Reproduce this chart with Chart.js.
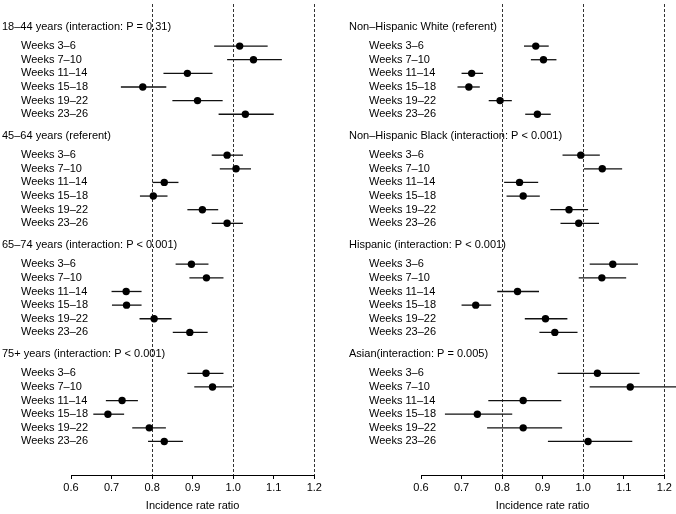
<!DOCTYPE html>
<html>
<head>
<meta charset="utf-8">
<script src="https://cdn.jsdelivr.net/npm/chart.js@4.4.0/dist/chart.umd.min.js"></script>
<style>
  html, body { margin: 0; padding: 0; background: #fff; }
  #wrap { position: relative; width: 676px; height: 514px; }
  canvas { position: absolute; top: 0; }
</style>
</head>
<body>
<div id="wrap">
  <canvas id="left" width="338" height="514" style="left:0"></canvas>
  <canvas id="right" width="338" height="514" style="left:338px"></canvas>
</div>
<script>
// rows inside every group
const weeks = ['Weeks 3–6', 'Weeks 7–10', 'Weeks 11–14', 'Weeks 15–18', 'Weeks 19–22', 'Weeks 23–26'];

// left panel: age groups
const ageGroups = [
  '18–44 years (interaction: P = 0.31)',
  '45–64 years (referent)',
  '65–74 years (interaction: P < 0.001)',
  '75+ years (interaction: P < 0.001)'
];
const ageIrr = [
  [1.016, 1.050, 0.887, 0.777, 0.912, 1.030],
  [0.985, 1.007, 0.830, 0.803, 0.924, 0.985],
  [0.897, 0.934, 0.736, 0.737, 0.805, 0.893],
  [0.933, 0.949, 0.726, 0.691, 0.793, 0.830]
];
const ageLower = [
  [0.953, 0.985, 0.828, 0.723, 0.850, 0.964],
  [0.947, 0.967, 0.801, 0.770, 0.887, 0.947],
  [0.858, 0.892, 0.700, 0.701, 0.769, 0.851],
  [0.887, 0.904, 0.686, 0.655, 0.751, 0.790]
];
const ageUpper = [
  [1.085, 1.120, 0.949, 0.835, 0.974, 1.100],
  [1.024, 1.044, 0.865, 0.838, 0.963, 1.024],
  [0.939, 0.976, 0.774, 0.774, 0.848, 0.937],
  [0.976, 0.998, 0.765, 0.731, 0.834, 0.876]
];

// right panel: race / ethnicity
const raceGroups = [
  'Non–Hispanic White (referent)',
  'Non–Hispanic Black (interaction: P < 0.001)',
  'Hispanic (interaction: P < 0.001)',
  'Asian(interaction: P = 0.005)'
];
const raceIrr = [
  [0.883, 0.902, 0.725, 0.718, 0.795, 0.887],
  [0.994, 1.047, 0.843, 0.852, 0.965, 0.989],
  [1.073, 1.046, 0.838, 0.735, 0.907, 0.930],
  [1.035, 1.116, 0.852, 0.739, 0.852, 1.012]
];
const raceLower = [
  [0.854, 0.871, 0.700, 0.690, 0.767, 0.857],
  [0.949, 1.002, 0.805, 0.811, 0.919, 0.944],
  [1.016, 0.989, 0.788, 0.700, 0.856, 0.892],
  [0.937, 1.016, 0.766, 0.659, 0.763, 0.913]
];
const raceUpper = [
  [0.915, 0.934, 0.753, 0.745, 0.824, 0.920],
  [1.041, 1.096, 0.889, 0.893, 1.012, 1.039],
  [1.135, 1.106, 0.891, 0.773, 0.961, 0.986],
  [1.139, 1.240, 0.946, 0.825, 0.948, 1.121]
];

const xTicks = [0.6, 0.7, 0.8, 0.9, 1.0, 1.1, 1.2];
const refLines = [0.8, 1.0, 1.2];

const FONT = { family: '"Liberation Sans", Arial, sans-serif', size: 11 };
const GROUP_SPAN = 8;      // title + 6 rows + gaps
const FIRST_ROW = 1.4;

function rowPos(g, k) { return g * GROUP_SPAN + FIRST_ROW + k; }

const refLinePlugin = {
  id: 'refLines',
  beforeDatasetsDraw(chart) {
    const { ctx, chartArea, scales: { x } } = chart;
    ctx.save();
    ctx.strokeStyle = '#333';
    ctx.lineWidth = 1;
    ctx.setLineDash([3, 2]);
    refLines.forEach(v => {
      const px = Math.round(x.getPixelForValue(v)) + 0.5;
      ctx.beginPath();
      ctx.moveTo(px, chartArea.top);
      ctx.lineTo(px, chartArea.bottom);
      ctx.stroke();
    });
    ctx.restore();
  }
};

const rowLabelPlugin = {
  id: 'rowLabels',
  afterDraw(chart, args, opts) {
    const { ctx, scales: { y } } = chart;
    ctx.save();
    ctx.font = FONT.size + 'px ' + FONT.family;
    ctx.fillStyle = '#000';
    ctx.textBaseline = 'middle';
    opts.groups.forEach((title, g) => {
      ctx.fillText(title, opts.titleX, y.getPixelForValue(g * GROUP_SPAN));
      weeks.forEach((w, k) => ctx.fillText(w, opts.rowX, y.getPixelForValue(rowPos(g, k))));
    });
    ctx.restore();
  }
};

function makeChart(id, groups, irr, lower, upper, padLeft, padRight, titleX, rowX) {
  const points = [];
  const whiskers = [];
  groups.forEach((_, g) => {
    weeks.forEach((_, k) => {
      const yy = rowPos(g, k);
      points.push({ x: irr[g][k], y: yy });
      whiskers.push({
        type: 'scatter',
        showLine: true,
        data: [{ x: lower[g][k], y: yy }, { x: upper[g][k], y: yy }],
        borderColor: '#111',
        borderWidth: 1.3,
        pointRadius: 0,
        clip: false
      });
    });
  });

  return new Chart(document.getElementById(id), {
    type: 'scatter',
    data: {
      datasets: [{
        data: points,
        pointRadius: 3.7,
        pointBackgroundColor: '#000',
        pointBorderWidth: 0,
        clip: false
      }].concat(whiskers)
    },
    options: {
      responsive: false,
      animation: false,
      events: [],
      layout: { padding: { left: padLeft, right: padRight, top: 0, bottom: 0 } },
      plugins: {
        legend: { display: false },
        tooltip: { enabled: false },
        rowLabels: { groups: groups, titleX: titleX, rowX: rowX }
      },
      scales: {
        x: {
          type: 'linear',
          min: 0.6,
          max: 1.2,
          afterBuildTicks: s => { s.ticks = xTicks.map(v => ({ value: v })); },
          afterFit: s => { s.height = 39; s.paddingLeft = 0; s.paddingRight = 0; },
          ticks: { font: FONT, color: '#000', padding: 2, callback: v => v.toFixed(1) },
          grid: { drawOnChartArea: false, drawTicks: true, tickLength: 4, tickColor: '#000' },
          border: { color: '#000', width: 1 },
          title: { display: true, text: 'Incidence rate ratio', font: FONT, color: '#000', padding: { top: 0, bottom: 1 } }
        },
        y: {
          type: 'linear',
          display: false,
          reverse: true,
          min: -1.687,
          max: 32.86
        }
      }
    },
    plugins: [refLinePlugin, rowLabelPlugin]
  });
}

makeChart('left', ageGroups, ageIrr, ageLower, ageUpper, 71, 23.7, 2, 21);
makeChart('right', raceGroups, raceIrr, raceLower, raceUpper, 83, 11.7, 11, 31);
</script>
</body>
</html>
